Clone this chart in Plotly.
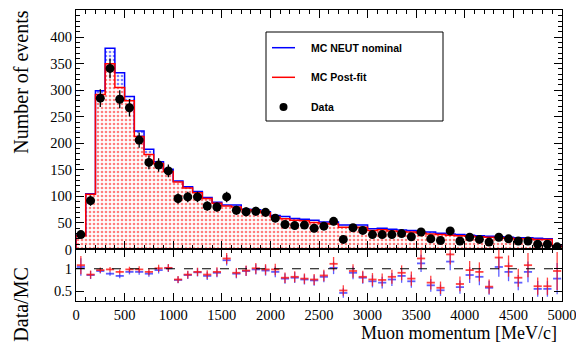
import numpy as np
import plotly.graph_objects as go

# ---- data (100 MeV/c bins, 0 - 5000 MeV/c) ----
bin_edges = list(range(0, 5001, 100))
data_counts = [28, 92, 285, 341, 283, 267, 206, 164, 159, 148,
               96, 99, 99, 82, 80, 99, 74, 71, 72, 70,
               59, 47, 45, 46, 40, 44, 53, 19, 41, 36,
               28, 28, 28, 30, 24, 33, 20, 17, 35, 16,
               23, 19, 14, 23, 20, 16, 16, 10, 10, 5]
mc_postfit = [26, 104, 292, 350, 305, 280, 213, 179, 162, 147,
              127, 116, 107, 96, 87, 82, 80, 75, 73, 69,
              61, 58, 55, 54, 51, 49, 48, 42, 42, 42,
              36, 37, 35, 34, 33, 31, 29, 28, 27, 26,
              25, 24, 23, 22, 21, 20, 20, 19, 19, 6]
mc_nominal = [27, 105, 299, 379, 333, 288, 223, 189, 165, 151,
              129, 118, 109, 98, 89, 84, 84, 76, 75, 71,
              64, 62, 58.5, 57, 55, 52, 52, 46, 46, 46,
              39, 40, 38, 36.5, 36, 33, 33, 30.5, 29, 28,
              27, 26, 25, 24, 23, 22, 22, 21, 20, 7]
ratio_postfit = [1.08, 0.87, 0.97, 0.985, 0.93, 0.985, 0.985, 0.93, 1.01, 1.02,
                 0.76, 0.87, 0.93, 0.87, 0.93, 1.23, 0.91, 0.96, 1.01, 0.985,
                 0.985, 0.80, 0.82, 0.78, 0.76, 0.85, 1.11, 0.515, 0.95, 0.82,
                 0.76, 0.75, 0.82, 0.91, 0.78, 1.23, 0.69, 0.575, 1.32, 0.66,
                 0.97, 0.93, 0.60, 1.25, 1.06, 0.80, 1.08, 0.61, 0.61, 0.95]
ratio_nominal = [1.04, 0.86, 0.95, 0.89, 0.84, 0.93, 0.93, 0.89, 0.97, 1.01,
                 0.75, 0.86, 0.92, 0.84, 0.91, 1.19, 0.89, 0.95, 0.985, 0.96,
                 0.93, 0.78, 0.80, 0.76, 0.74, 0.82, 1.02, 0.46, 0.91, 0.80,
                 0.72, 0.69, 0.76, 0.84, 0.72, 1.12, 0.63, 0.52, 1.16, 0.59,
                 0.86, 0.82, 0.575, 1.04, 0.93, 0.69, 0.93, 0.55, 0.55, 0.78]
x_ticks = [0, 500, 1000, 1500, 2000, 2500, 3000, 3500, 4000, 4500, 5000]
y_ticks = [0, 50, 100, 150, 200, 250, 300, 350, 400]
legend_names = ["MC NEUT nominal", "MC Post-fit", "Data"]

edges = np.array(bin_edges, dtype=float)
centers = 0.5 * (edges[:-1] + edges[1:])
widths = np.diff(edges)
data = np.array(data_counts, dtype=float)
red = np.array(mc_postfit, dtype=float)
blue = np.array(mc_nominal, dtype=float)
r_red = np.array(ratio_postfit)
r_blue = np.array(ratio_nominal)
data_err = np.sqrt(data)
rel_err = 1.0 / np.sqrt(data)

SERIF = "Liberation Serif"
SANS = "Liberation Sans"

fig = go.Figure()

# filled histograms
fig.add_trace(go.Bar(x=centers, y=blue, width=widths, xaxis="x", yaxis="y",
                     marker=dict(color="white", line_width=0,
                                 pattern=dict(shape=".", fgcolor="blue", bgcolor="white",
                                              size=4, solidity=0.35)),
                     showlegend=False, hoverinfo="skip"))
fig.add_trace(go.Bar(x=centers, y=red, width=widths, xaxis="x", yaxis="y",
                     marker=dict(color="white", line_width=0,
                                 pattern=dict(shape=".", fgcolor="red", bgcolor="white",
                                              size=4, solidity=0.35)),
                     showlegend=False, hoverinfo="skip"))

# step outlines
for vals, col in [(blue, "blue"), (red, "red")]:
    xs = np.concatenate([[edges[0]], edges])
    ys = np.concatenate([[0], vals, [vals[-1]]])
    fig.add_trace(go.Scatter(x=xs, y=ys, mode="lines", line=dict(color=col, width=1.5, shape="hv"),
                             xaxis="x", yaxis="y", showlegend=False, hoverinfo="skip"))

# data points
fig.add_trace(go.Scatter(x=centers, y=data, mode="markers", xaxis="x", yaxis="y",
                         marker=dict(color="black", size=9),
                         error_y=dict(type="data", array=data_err, color="black", thickness=1.3, width=0),
                         showlegend=False))

# ratio panel
fig.add_trace(go.Scatter(x=centers, y=r_blue, mode="markers", xaxis="x2", yaxis="y2",
                         marker=dict(size=1, color="rgba(0,0,255,0)"),
                         error_x=dict(type="constant", value=42, color="rgba(40,40,255,0.75)", thickness=1.8, width=0),
                         error_y=dict(type="data", array=r_blue * rel_err, color="rgba(40,40,255,0.75)", thickness=1.3, width=0),
                         showlegend=False))
fig.add_trace(go.Scatter(x=centers, y=r_red, mode="markers", xaxis="x2", yaxis="y2",
                         marker=dict(size=1, color="rgba(255,0,0,0)"),
                         error_x=dict(type="constant", value=42, color="rgba(255,20,20,0.8)", thickness=1.8, width=0),
                         error_y=dict(type="data", array=r_red * rel_err, color="rgba(255,20,20,0.8)", thickness=1.3, width=0),
                         showlegend=False))

split = 0.177
tickfont = dict(family=SERIF, size=14.5, color="black")
common_x = dict(range=[0, 5000], showline=True, linecolor="black", linewidth=1, mirror="ticks",
                ticks="inside", tickvals=x_ticks, ticklen=8, tickcolor="black", tickwidth=1,
                minor=dict(dtick=100, ticks="inside", ticklen=4, tickcolor="black"),
                showgrid=False, zeroline=False, tickfont=tickfont, automargin=False)

fig.update_layout(
    width=576, height=344,
    margin=dict(l=76, r=14, t=10, b=43, autoexpand=False),
    paper_bgcolor="white", plot_bgcolor="white",
    barmode="overlay", bargap=0,
    showlegend=False,
    xaxis=dict(common_x, anchor="y", domain=[0, 1], showticklabels=False, matches="x2"),
    yaxis=dict(range=[0, 451], domain=[split, 1], anchor="x", showline=True, linecolor="black",
               linewidth=1, mirror="ticks", ticks="inside", tickvals=y_ticks, ticklen=8, tickcolor="black",
               minor=dict(dtick=10, ticks="inside", ticklen=4, tickcolor="black"),
               showgrid=False, zeroline=False, tickfont=tickfont, automargin=False),
    xaxis2=dict(common_x, anchor="y2", domain=[0, 1], ticktext=[str(v) for v in x_ticks],
                ticklabelstandoff=1, ticklabeloverflow="allow"),
    yaxis2=dict(range=[0.28, 1.43], domain=[0, split], anchor="x2", showline=True, linecolor="black",
                linewidth=1, mirror="ticks", ticks="inside", tickvals=[0.5, 1], ticktext=["0.5", "1"],
                ticklen=8, tickcolor="black", showgrid=False, zeroline=False, tickfont=tickfont,
                automargin=False),
)

# dashed reference line at ratio = 1
fig.add_shape(type="line", xref="x2", yref="y2", x0=0, x1=5000, y0=1, y1=1,
              line=dict(color="black", width=1, dash="dash"))

# axis titles
fig.add_annotation(text="Number of events", xref="paper", yref="paper", x=-0.112, y=0.752,
                   textangle=-90, showarrow=False, xanchor="center", yanchor="middle",
                   font=dict(family=SERIF, size=20, color="black"))
fig.add_annotation(text="Data/MC", xref="paper", yref="paper", x=-0.112, y=-0.014,
                   textangle=-90, showarrow=False, xanchor="center", yanchor="middle",
                   font=dict(family=SERIF, size=20, color="black"))
fig.add_annotation(text="Muon momentum [MeV/c]", xref="paper", yref="paper", x=0.992, y=-43.0 / 291.0,
                   showarrow=False, xanchor="right", yanchor="bottom", borderpad=0,
                   font=dict(family=SERIF, size=18, color="black"))

# legend box (drawn manually, ROOT style)
def px2x(px):
    return (px - 76.0) / 486.0
def py2y(py):
    return 1 - (py - 10.0) / 291.0

fig.add_shape(type="rect", xref="paper", yref="paper", x0=px2x(266), x1=px2x(443),
              y0=py2y(121), y1=py2y(32), line=dict(color="black", width=1), fillcolor="white")
rows = [47.7, 77.3, 107.0]
fig.add_shape(type="line", xref="paper", yref="paper", x0=px2x(272), x1=px2x(295),
              y0=py2y(rows[0]), y1=py2y(rows[0]), line=dict(color="blue", width=1.5))
fig.add_shape(type="line", xref="paper", yref="paper", x0=px2x(272), x1=px2x(295),
              y0=py2y(rows[1]), y1=py2y(rows[1]), line=dict(color="red", width=1.5))
fig.add_shape(type="circle", xref="paper", yref="paper", x0=px2x(279.5), x1=px2x(287.5),
              y0=py2y(111), y1=py2y(103), line=dict(color="black", width=0), fillcolor="black")
for name, r in zip(legend_names, rows):
    fig.add_annotation(text="<b>" + name + "</b>", xref="paper", yref="paper", x=px2x(309), y=py2y(r),
                       showarrow=False, xanchor="left", yanchor="middle",
                       font=dict(family=SANS, size=10.5, color="black"))

fig.write_html("out.html")
